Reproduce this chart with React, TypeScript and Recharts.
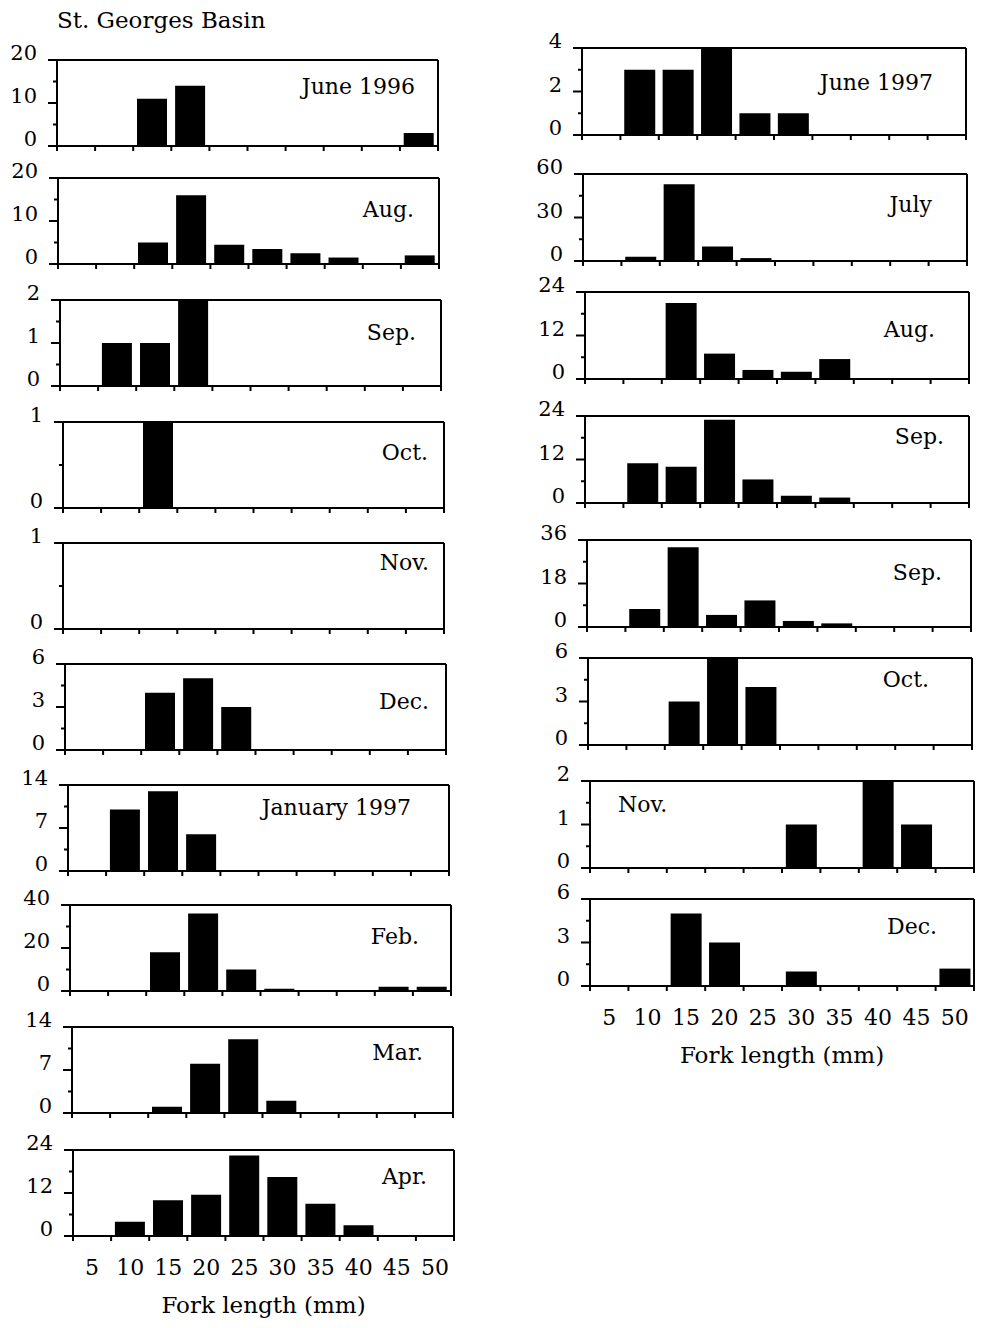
import React from 'react';
import { BarChart, Bar, XAxis, YAxis, CartesianGrid } from 'recharts';

const FONT = '"DejaVu Serif", serif';

// fork length classes (mm)
const bins = [5, 10, 15, 20, 25, 30, 35, 40, 45, 50];

// left column: June 1996 - Apr. 1997
const jun96 = [0, 0, 11, 14, 0, 0, 0, 0, 0, 3];
const aug96 = [0, 0, 5, 16, 4.5, 3.5, 2.5, 1.5, 0, 2];
const sep96 = [0, 1, 1, 2, 0, 0, 0, 0, 0, 0];
const oct96 = [0, 0, 1, 0, 0, 0, 0, 0, 0, 0];
const nov96 = [0, 0, 0, 0, 0, 0, 0, 0, 0, 0];
const dec96 = [0, 0, 4, 5, 3, 0, 0, 0, 0, 0];
const jan97 = [0, 10, 13, 6, 0, 0, 0, 0, 0, 0];
const feb97 = [0, 0, 18, 36, 10, 1, 0, 0, 2, 2];
const mar97 = [0, 0, 1, 8, 12, 2, 0, 0, 0, 0];
const apr97 = [0, 4, 10, 11.5, 22.5, 16.5, 9, 3, 0, 0];

// right column: June 1997 - Dec. 1997
const jun97 = [0, 3, 3, 4, 1, 1, 0, 0, 0, 0];
const jul97 = [0, 3, 53, 10, 2, 0, 0, 0, 0, 0];
const aug97 = [0, 0, 21, 7, 2.5, 2, 5.5, 0, 0, 0];
const sep97a = [0, 11, 10, 23, 6.5, 2, 1.5, 0, 0, 0];
const sep97b = [0, 7.5, 33, 5, 11, 2.5, 1.5, 0, 0, 0];
const oct97 = [0, 0, 3, 6, 4, 0, 0, 0, 0, 0];
const nov97 = [0, 0, 0, 0, 0, 1, 0, 2, 1, 0];
const dec97 = [0, 0, 5, 3, 0, 1, 0, 0, 0, 1.2];

const leftTitles = ['June 1996', 'Aug.', 'Sep.', 'Oct.', 'Nov.', 'Dec.', 'January 1997', 'Feb.', 'Mar.', 'Apr.'];
const leftSeries = [jun96, aug96, sep96, oct96, nov96, dec96, jan97, feb97, mar97, apr97];
const leftMax = [20, 20, 2, 1, 1, 6, 14, 40, 14, 24];

const rightTitles = ['June 1997', 'July', 'Aug.', 'Sep.', 'Sep.', 'Oct.', 'Nov.', 'Dec.'];
const rightSeries = [jun97, jul97, aug97, sep97a, sep97b, oct97, nov97, dec97];
const rightMax = [4, 60, 24, 24, 36, 6, 2, 6];

// layout (page px)
const leftTops = [60, 178, 300, 422, 543, 664, 785, 905, 1027, 1150];
const leftLefts = [57, 58, 60, 63, 63, 65, 68, 70, 72, 73];
const leftTitlePos = [[23, 27], [25, 32], [25, 33], [16, 31], [15, 20], [17, 38], [38, 23], [32, 32], [30, 26], [27, 27]];
const rightTops = [48, 174, 292, 416, 540, 658, 781, 899];
const rightLefts = [582, 583, 585, 585, 587, 588, 590, 590];
const rightTitlePos = [[33, 35], [35, 31], [34, 38], [25, 21], [29, 33], [43, 22], [-28, 24], [37, 28]];

const Y_W = 60;
const M_TOP = 24;
const LINE = 2;

function YTick(props: any) {
  const { x, y, payload, max } = props;
  const v = payload.value;
  const major = v === 0 || v === max || (max > 1 && v === max / 2);
  return (
    <g>
      <line x1={x - (major ? 9 : 4)} x2={x} y1={y} y2={y} stroke="#000" strokeWidth={LINE} />
      {major && (
        <text x={x - 20} y={y - 7} textAnchor="end" dominantBaseline="central" fontSize={21} fontFamily={FONT} fill="#000">
          {v}
        </text>
      )}
    </g>
  );
}

function XTick(props: any) {
  const { x, y, payload, index, band, labels } = props;
  return (
    <g>
      <line x1={x - band / 2} x2={x - band / 2} y1={y} y2={y + 5} stroke="#000" strokeWidth={LINE} />
      {index === bins.length - 1 && <line x1={x + band / 2} x2={x + band / 2} y1={y} y2={y + 5} stroke="#000" strokeWidth={LINE} />}
      {labels && (
        <text x={x} y={y + 31} textAnchor="middle" dominantBaseline="central" fontSize={22} fontFamily={FONT} fill="#000">
          {payload.value}
        </text>
      )}
    </g>
  );
}

function Panel(props: any) {
  const { values, max, title, left, top, width, height, titlePos, labels } = props;
  const data = bins.map((bin, i) => ({ bin, n: values[i] }));
  const axisH = labels ? 88 : 12;
  const chartW = Y_W + width + 8;
  const chartH = M_TOP + height + axisH;
  const band = width / bins.length;
  const yTicks = max === 1 ? [0, 0.5, 1] : [0, max / 4, max / 2, (3 * max) / 4, max];
  const [inset, ty] = titlePos;
  const titleStyle: any = {
    position: 'absolute',
    top: top + ty - 12,
    lineHeight: '24px',
    fontSize: 22,
    fontFamily: FONT,
    whiteSpace: 'nowrap',
  };
  if (inset >= 0) titleStyle.right = 981 - (left + width - inset);
  else titleStyle.left = left - inset;
  return (
    <>
      <div style={{ position: 'absolute', left: left - Y_W, top: top - M_TOP }}>
        <BarChart width={chartW} height={chartH} data={data} margin={{ top: M_TOP, right: 8, bottom: 0, left: 0 }} barCategoryGap="10%">
          <CartesianGrid stroke="#000" strokeWidth={LINE} horizontalPoints={[M_TOP]} verticalPoints={[Y_W + width]} />
          <XAxis
            dataKey="bin"
            interval={0}
            height={axisH}
            tickSize={0}
            tickMargin={0}
            axisLine={{ stroke: '#000', strokeWidth: LINE }}
            tick={(p: any) => <XTick {...p} band={band} labels={labels} />}
            label={labels ? { value: 'Fork length (mm)', position: 'insideBottom', offset: 11, fontSize: 23, fontFamily: FONT, fill: '#000' } : undefined}
          />
          <YAxis
            type="number"
            domain={[0, max]}
            ticks={yTicks}
            interval={0}
            allowDataOverflow
            width={Y_W}
            tickSize={0}
            tickMargin={0}
            axisLine={{ stroke: '#000', strokeWidth: LINE }}
            tick={(p: any) => <YTick {...p} max={max} />}
          />
          <Bar dataKey="n" fill="#000" isAnimationActive={false} />
        </BarChart>
      </div>
      <div style={titleStyle}>{title}</div>
    </>
  );
}

export default function App() {
  return (
    <div style={{ position: 'absolute', left: 0, top: 0, width: 981, height: 1328, background: '#fff', fontFamily: FONT, color: '#000', overflow: 'hidden' }}>
      <div style={{ position: 'absolute', left: 57, top: 7, fontSize: 23, lineHeight: '26px', fontFamily: FONT }}>St. Georges Basin</div>
      {leftSeries.map((values, i) => (
        <Panel
          key={'l' + i}
          values={values}
          max={leftMax[i]}
          title={leftTitles[i]}
          left={leftLefts[i]}
          top={leftTops[i]}
          width={381}
          height={86}
          titlePos={leftTitlePos[i]}
          labels={i === leftSeries.length - 1}
        />
      ))}
      {rightSeries.map((values, i) => (
        <Panel
          key={'r' + i}
          values={values}
          max={rightMax[i]}
          title={rightTitles[i]}
          left={rightLefts[i]}
          top={rightTops[i]}
          width={384}
          height={87}
          titlePos={rightTitlePos[i]}
          labels={i === rightSeries.length - 1}
        />
      ))}
    </div>
  );
}
